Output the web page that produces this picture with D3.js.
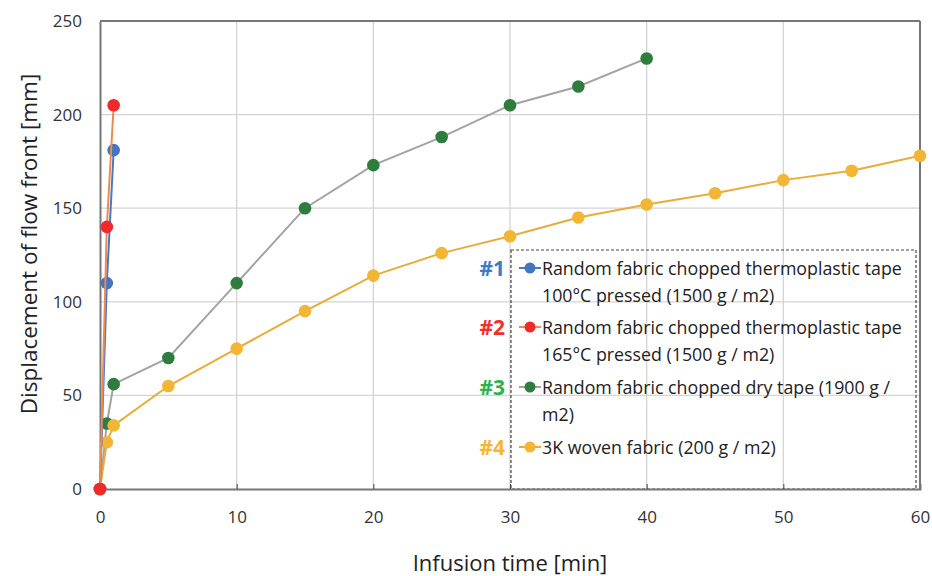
<!DOCTYPE html>
<html>
<head>
<meta charset="utf-8">
<script src="https://cdn.jsdelivr.net/npm/d3@7"></script>
<style>
  body { margin: 0; background: #fff; }
  text { font-family: "Open Sans", "Noto Sans", sans-serif; fill: #222; }
  .grid line { stroke: #d4d4d4; stroke-width: 1.3; }
  .tick text { font-size: 17px; fill: #333; }
</style>
</head>
<body>
<script>
// data
var t1 = [0, 0.5, 1],       d1 = [0, 110, 181];
var t2 = [0, 0.5, 1],       d2 = [0, 140, 205];
var t3 = [0, 0.5, 1, 5, 10, 15, 20, 25, 30, 35, 40];
var d3v = [0, 35, 56, 70, 110, 150, 173, 188, 205, 215, 230];
var t4 = [0, 0.5, 1, 5, 10, 15, 20, 25, 30, 35, 40, 45, 50, 55, 60];
var d4 = [0, 25, 34, 55, 75, 95, 114, 126, 135, 145, 152, 158, 165, 170, 178];

var seriesTags = ["#1", "#2", "#3", "#4"];
var legendLines = [
  ["Random fabric chopped thermoplastic tape", "100\u00B0C pressed (1500 g / m2)"],
  ["Random fabric chopped thermoplastic tape", "165\u00B0C pressed (1500 g / m2)"],
  ["Random fabric chopped dry tape (1900 g /", "m2)"],
  ["3K woven fabric (200 g / m2)"]
];
var xTicks = [0, 10, 20, 30, 40, 50, 60];
var yTicks = [0, 50, 100, 150, 200, 250];

var markerCol = ["#4275c4", "#f02a2a", "#2f7d3e", "#f3b534"];
var lineCol   = ["#4a78c8", "#ed8a4e", "#a3a3a3", "#e8ac3a"];
var tagCol    = ["#3c7bc6", "#f0302a", "#2eb150", "#f5b730"];

var series = [
  d3.zip(t3, d3v), d3.zip(t4, d4), d3.zip(t1, d1), d3.zip(t2, d2)
];

var margin = {top: 21, right: 12, bottom: 87, left: 100},
    width = 932 - margin.left - margin.right,
    height = 576 - margin.top - margin.bottom;

var svg = d3.select("body").append("svg")
    .attr("width", 932)
    .attr("height", 576)
  .append("g")
    .attr("transform", "translate(" + margin.left + "," + margin.top + ")");

var x = d3.scaleLinear().domain([0, 60]).range([0, width]);
var y = d3.scaleLinear().domain([0, 250]).range([height, 0]);

// gridlines
svg.append("g").attr("class", "grid")
  .selectAll("line").data(xTicks.slice(1, -1))
  .enter().append("line")
    .attr("x1", function(d) { return x(d); })
    .attr("x2", function(d) { return x(d); })
    .attr("y1", 0).attr("y2", height);

svg.append("g").attr("class", "grid")
  .selectAll("line").data(yTicks.slice(1, -1))
  .enter().append("line")
    .attr("x1", 0).attr("x2", width)
    .attr("y1", function(d) { return y(d); })
    .attr("y2", function(d) { return y(d); });

// legend box (drawn under the data)
var legTop = 229, legLeft = x(30) + 1;
svg.append("rect")
    .attr("x", legLeft)
    .attr("y", legTop)
    .attr("width", width - 4 - legLeft)
    .attr("height", height - legTop)
    .attr("fill", "none")
    .attr("stroke", "#444")
    .attr("stroke-width", 1.2)
    .attr("stroke-dasharray", "3,2");

// axes
svg.append("g")
    .attr("transform", "translate(0," + height + ")")
    .call(d3.axisBottom(x).tickValues(xTicks).tickSize(-5).tickPadding(22))
    .call(function(g) { g.select(".domain").attr("stroke", "#777").attr("stroke-width", 2); })
    .call(function(g) { g.selectAll(".tick line").attr("stroke", "#444"); });

svg.append("g")
    .call(d3.axisLeft(y).tickValues(yTicks).tickSize(0).tickPadding(18))
    .call(function(g) { g.select(".domain").attr("stroke", "#777").attr("stroke-width", 2); });

svg.append("line").attr("x1", 0).attr("x2", width).attr("y1", 0).attr("y2", 0)
    .attr("stroke", "#777").attr("stroke-width", 2);
svg.append("line").attr("x1", width).attr("x2", width).attr("y1", 0).attr("y2", height)
    .attr("stroke", "#777").attr("stroke-width", 2);

// lines and markers
var line = d3.line()
    .x(function(d) { return x(d[0]); })
    .y(function(d) { return y(d[1]); });

var lineIdx = [2, 3, 0, 1];
series.forEach(function(s, i) {
  var k = lineIdx[i];
  svg.append("path")
      .datum(s)
      .attr("fill", "none")
      .attr("stroke", lineCol[k])
      .attr("stroke-width", 2)
      .attr("d", line);
  svg.append("g").selectAll("circle")
      .data(s)
    .enter().append("circle")
      .attr("cx", function(d) { return x(d[0]); })
      .attr("cy", function(d) { return y(d[1]); })
      .attr("r", 6.3)
      .attr("fill", markerCol[k]);
});

// legend entries
var rowY = [247, 306, 366, 426];
seriesTags.forEach(function(tag, i) {
  var gy = rowY[i];
  svg.append("text")
      .attr("x", legLeft - 6)
      .attr("y", gy + 8)
      .attr("text-anchor", "end")
      .style("font-size", "21px")
      .style("font-weight", "bold")
      .style("fill", tagCol[i])
      .text(tag);
  svg.append("line")
      .attr("x1", legLeft + 8).attr("x2", legLeft + 30)
      .attr("y1", gy).attr("y2", gy)
      .attr("stroke", lineCol[i]).attr("stroke-width", 2);
  svg.append("circle")
      .attr("cx", legLeft + 19).attr("cy", gy).attr("r", 5.5)
      .attr("fill", markerCol[i]);
  legendLines[i].forEach(function(txt, j) {
    svg.append("text")
        .attr("x", legLeft + 31)
        .attr("y", gy + 7 + j * 27)
        .style("font-size", "17.8px")
        .text(txt);
  });
});

// axis titles
svg.append("text")
    .attr("x", width / 2)
    .attr("y", height + 82)
    .attr("text-anchor", "middle")
    .style("font-size", "22px")
    .text("Infusion time [min]");

svg.append("text")
    .attr("transform", "rotate(-90)")
    .attr("x", -223)
    .attr("y", -63)
    .attr("text-anchor", "middle")
    .style("font-size", "22.5px")
    .text("Displacement of flow front [mm]");
</script>
</body>
</html>
